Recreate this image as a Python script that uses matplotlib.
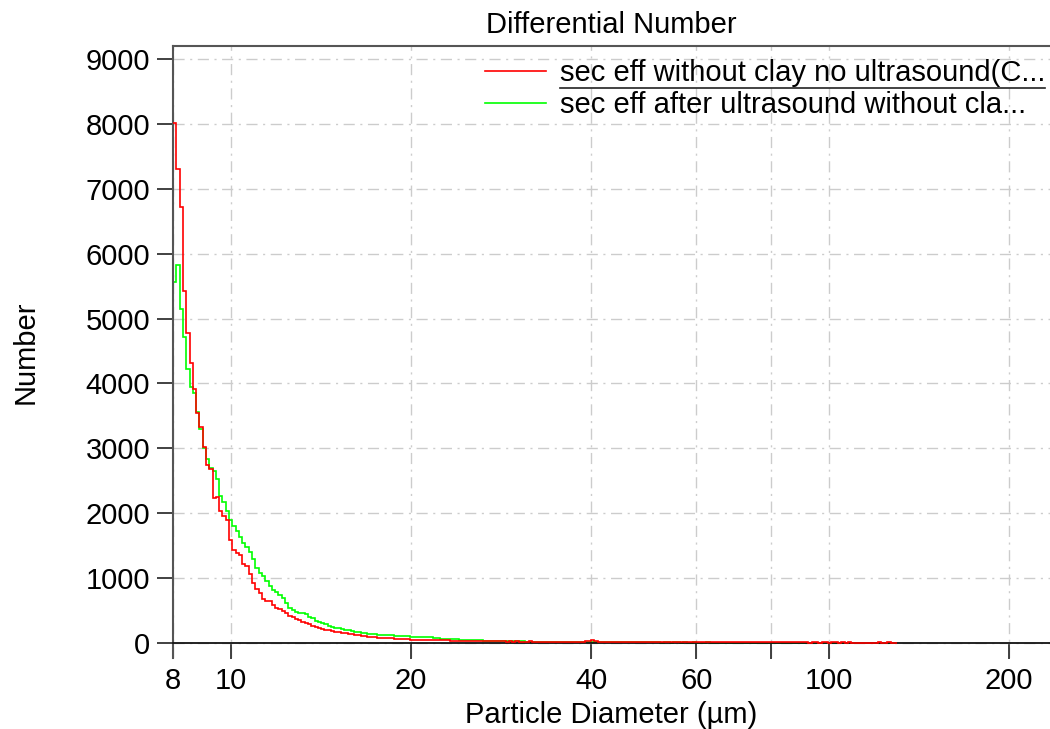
import matplotlib.pyplot as plt
import numpy as np
from matplotlib.lines import Line2D

plt.rcParams['font.family'] = ['Liberation Sans', 'DejaVu Sans']

# log-spaced size channels, 8 um .. 130 um
bin_lo, bin_hi, n_bins = 8.0, 130.0, 220
edges = np.geomspace(bin_lo, bin_hi, n_bins + 1)

# counts per channel
red_counts = [
    8020, 7300, 6720, 5430, 4770, 4320, 3920, 3540, 3330, 3020,
    2740, 2680, 2230, 2250, 2040, 1950, 1890, 1590, 1430, 1380,
    1360, 1220, 1190, 1070, 930, 830, 770, 680, 655, 640,
    590, 545, 520, 490, 460, 420, 395, 365, 350, 330,
    312, 290, 268, 248, 232, 216, 206, 196, 186, 176,
    166, 160, 150, 142, 136, 130, 121, 112, 103, 96,
    90, 86, 82, 78, 75, 72, 70, 67, 64, 61,
    59, 56, 54, 51, 49, 47, 46, 44, 43, 42,
    41, 40, 39, 42, 37, 38, 36, 34, 33, 31,
    30, 29, 31, 28, 27, 26, 28, 25, 24, 26,
    25, 23, 24, 22, 26, 21, 22, 20, 24, 21,
    20, 19, 22, 18, 21, 19, 17, 20, 18, 22,
    19, 17, 21, 18, 20, 24, 30, 52, 36, 22,
    18, 20, 16, 19, 15, 17, 14, 18, 16, 15,
    14, 16, 13, 15, 14, 12, 16, 13, 14, 12,
    13, 15, 12, 14, 11, 13, 12, 14, 11, 12,
    12, 10, 13, 11, 12, 10, 11, 12, 9, 11,
    10, 11, 9, 12, 10, 9, 11, 10, 9, 10,
    9, 10, 8, 9, 11, 8, 9, 10, 8, 9,
    8, 9, 10, 7, 9, 8, 7, 9, 8, 7,
    8, 9, 7, 8, 6, 8, 7, 0, 0, 0,
    0, 0, 0, 6, 8, 7, 6, 8, 5, 0,
]

green_counts = [
    5560, 5830, 5150, 4710, 4230, 3950, 3860, 3560, 3300, 3000,
    2830, 2700, 2650, 2520, 2260, 2170, 2030, 1900, 1810, 1720,
    1640, 1540, 1480, 1400, 1300, 1150, 1080, 1030, 960, 880,
    820, 780, 740, 690, 620, 545, 505, 480, 470, 460,
    440, 400, 380, 345, 322, 305, 290, 266, 250, 236,
    226, 215, 205, 196, 186, 176, 162, 156, 150, 145,
    140, 135, 131, 126, 122, 120, 117, 114, 111, 108,
    105, 101, 98, 96, 94, 92, 90, 88, 85, 82,
    70, 68, 66, 63, 60, 58, 55, 52, 50, 48,
    46, 44, 42, 40, 38, 37, 36, 34, 33, 32,
    30, 28, 27, 29, 26, 25, 24, 22, 23, 21,
    20, 19, 18, 17, 19, 16, 15, 17, 14, 16,
    15, 14, 16, 13, 15, 12, 14, 18, 13, 12,
    13, 11, 12, 10, 12, 11, 10, 9, 11, 10,
    9, 10, 8, 9, 10, 8, 9, 8, 7, 9,
    8, 7, 9, 8, 7, 8, 6, 7, 8, 6,
    7, 6, 8, 7, 6, 7, 5, 6, 7, 5,
    6, 5, 7, 6, 5, 6, 5, 4, 6, 5,
    5, 6, 4, 5, 6, 4, 5, 6, 4, 5,
    4, 5, 6, 4, 5, 4, 5, 6, 4, 5,
    5, 6, 4, 7, 5, 6, 4, 5, 0, 0,
    0, 0, 0, 0, 0, 0, 0, 0, 0, 0,
]

labels = ["sec eff without clay no ultrasound(C...",
          "sec eff after ultrasound without cla..."]
x_ticks = [8, 10, 20, 40, 60, 80, 100, 200]
x_ticklabels = ["8", "10", "20", "40", "60", "", "100", "200"]
y_ticks = list(range(0, 9001, 1000))

fig = plt.figure(figsize=(10.5, 7.29), dpi=100)
ax = fig.add_axes([0.1648, 0.0974, 0.8352, 0.8395])

ax.stairs(red_counts, edges, baseline=None, color='#ff0000', lw=1.2,
          label=labels[0], zorder=3)
ax.stairs(green_counts, edges, baseline=None, color='#00ff00', lw=1.2,
          label=labels[1], zorder=2)

ax.set_xscale('log')
ax.set_xlim(8, 234)
ax.set_ylim(-231, 9200)

ax.set_xticks(x_ticks)
ax.set_xticklabels(x_ticklabels)
ax.xaxis.set_minor_locator(plt.NullLocator())
ax.set_yticks(y_ticks)

ax.grid(True, color='#cccccc', ls=(0, (8, 4, 1.5, 4)), lw=1.0, zorder=0)

for s in ['top', 'left']:
    ax.spines[s].set_color('#555555')
    ax.spines[s].set_linewidth(1.5)
ax.spines['right'].set_visible(False)
ax.spines['bottom'].set_position(('data', 0))
ax.spines['bottom'].set_color('#111111')
ax.spines['bottom'].set_linewidth(1.3)

ax.tick_params(axis='both', direction='out', length=11.5, width=1.3,
               color='#333333', labelsize=21, pad=6)
ax.tick_params(axis='y', pad=5)

ax.set_title('Differential Number', fontsize=21, pad=9)
ax.set_xlabel('Particle Diameter (µm)', fontsize=21, labelpad=4)
ax.set_ylabel('Number', fontsize=21, labelpad=33)

leg = ax.legend(loc='upper right', bbox_to_anchor=(0.996, 0.919),
                bbox_transform=fig.transFigure, frameon=False, fontsize=21,
                borderpad=0, borderaxespad=0, handlelength=2.09,
                handletextpad=0.48, labelspacing=0.13)

# underline under the first legend entry
fig.add_artist(Line2D([560 / 1050, 1045 / 1050], [1 - 88 / 729, 1 - 88 / 729],
                      transform=fig.transFigure, color='#222222', lw=1.2))

fig.savefig('out.png', dpi=100)
